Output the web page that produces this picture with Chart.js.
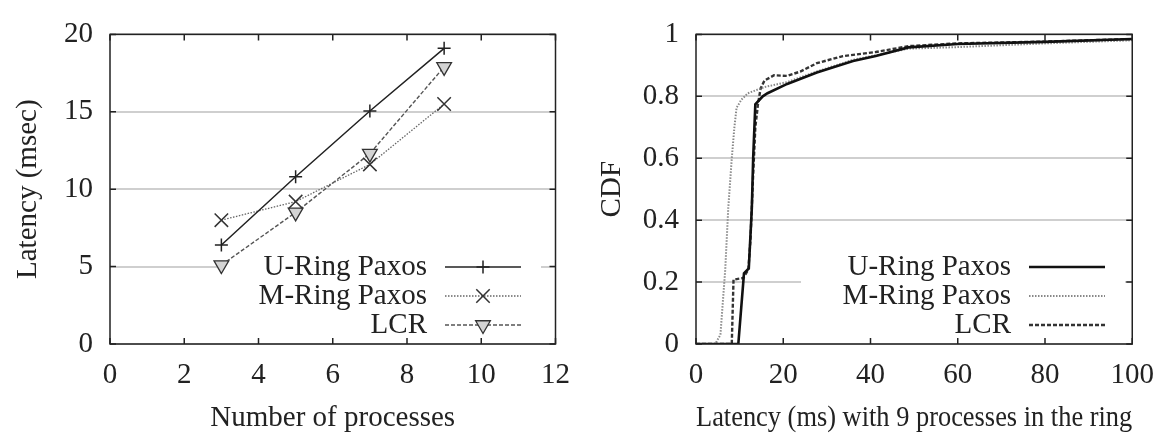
<!DOCTYPE html>
<html>
<head>
<meta charset="utf-8">
<script src="https://cdn.jsdelivr.net/npm/chart.js@4"></script>
<style>
  body { margin: 0; background: #fff; }
  .box { position: absolute; top: 0; width: 584px; height: 436px; }
</style>
</head>
<body>
<div class="box" style="left:0"><canvas id="procChart" width="584" height="436"></canvas></div>
<div class="box" style="left:584px"><canvas id="cdfChart" width="584" height="436"></canvas></div>
<script>
// Left panel: latency vs number of processes
const processes = [3, 5, 7, 9];
const uringLatency = [6.4, 10.8, 15.05, 19.1];
const mringLatency = [8.0, 9.2, 11.6, 15.5];
const lcrLatency = [5.1, 8.5, 12.3, 17.9];
const procTicks = [0, 2, 4, 6, 8, 10, 12];
const latencyTicks = [0, 5, 10, 15, 20];

// Right panel: CDF with 9 processes
const uringCdfX = [0, 9.7, 11.0, 12.1, 12.8, 13.1, 13.6, 15.3, 16.4, 20.9, 27.7, 36, 41.2, 48.7, 60, 80, 100];
const uringCdfY = [0, 0, 0.228, 0.244, 0.44, 0.6, 0.774, 0.80, 0.81, 0.84, 0.877, 0.914, 0.93, 0.958, 0.969, 0.976, 0.985];
const mringCdfX = [0, 4.4, 5.6, 6.7, 7.4, 8.2, 8.8, 9.3, 10.4, 11.9, 15.7, 20.9, 27.7, 36, 48.7, 60, 80, 100];
const mringCdfY = [0, 0, 0.03, 0.24, 0.44, 0.6, 0.70, 0.763, 0.789, 0.81, 0.83, 0.846, 0.88, 0.918, 0.954, 0.959, 0.971, 0.981];
const lcrCdfX = [0, 8.2, 8.6, 10.8, 12, 12.5, 13.1, 13.6, 14.2, 14.8, 15.7, 17.9, 20.9, 23.9, 27.7, 33.7, 41.2, 48.7, 60, 80, 100];
const lcrCdfY = [0, 0, 0.208, 0.213, 0.24, 0.34, 0.547, 0.70, 0.774, 0.825, 0.851, 0.868, 0.866, 0.88, 0.907, 0.93, 0.943, 0.962, 0.971, 0.977, 0.985];
const cdfXTicks = [0, 20, 40, 60, 80, 100];
const cdfYTicks = [0, 0.2, 0.4, 0.6, 0.8, 1];

const seriesNames = ["U-Ring Paxos", "M-Ring Paxos", "LCR"];
const FONT = "'Liberation Serif', 'Times New Roman', serif";

const pairs = (xs, ys) => xs.map((x, i) => ({ x: x, y: ys[i] }));

// gnuplot-like frame, inward ticks and opaque key
const gnuplotLook = {
  id: "gnuplotLook",
  beforeDatasetsDraw(chart) {
    const ctx = chart.ctx;
    ctx.save();
    ctx.fillStyle = "#fff";
    ctx.fillRect(217, 250, 324, 92);
    ctx.restore();
  },
  afterDatasetsDraw(chart) {
    const { ctx, chartArea: a, scales } = chart;
    ctx.save();
    ctx.strokeStyle = "#222";
    ctx.lineWidth = 1.5;
    ctx.strokeRect(a.left, a.top, a.width, a.height);
    ctx.beginPath();
    scales.x.ticks.forEach((t) => {
      const px = scales.x.getPixelForValue(t.value);
      ctx.moveTo(px, a.bottom); ctx.lineTo(px, a.bottom - 6);
      ctx.moveTo(px, a.top); ctx.lineTo(px, a.top + 6);
    });
    scales.y.ticks.forEach((t) => {
      const py = scales.y.getPixelForValue(t.value);
      ctx.moveTo(a.left, py); ctx.lineTo(a.left + 6, py);
      ctx.moveTo(a.right, py); ctx.lineTo(a.right - 6, py);
    });
    ctx.stroke();
    ctx.restore();
  },
  afterDraw(chart) {
    const ctx = chart.ctx;
    ctx.save();
    chart.data.datasets.forEach((ds, i) => {
      const y = 267 + 29 * i;
      ctx.fillStyle = "#222";
      ctx.font = "29px " + FONT;
      ctx.textAlign = "right";
      ctx.textBaseline = "middle";
      ctx.fillText(ds.label, 427, y);
      ctx.strokeStyle = ds.borderColor;
      ctx.lineWidth = ds.borderWidth;
      ctx.setLineDash(ds.borderDash || []);
      ctx.beginPath();
      ctx.moveTo(445, y); ctx.lineTo(521, y);
      ctx.stroke();
      ctx.setLineDash([]);
      if (ds.pointRadius > 0) {
        ctx.fillStyle = ds.pointBackgroundColor || "#fff";
        ctx.strokeStyle = ds.pointBorderColor || ds.borderColor;
        ctx.lineWidth = ds.pointBorderWidth || 1;
        Chart.helpers.drawPoint(ctx, {
          pointStyle: ds.pointStyle,
          rotation: ds.pointRotation || 0,
          radius: ds.pointRadius,
          borderWidth: ds.pointBorderWidth || 1
        }, 483, y);
      }
    });
    ctx.restore();
  }
};

function scaleOpts(min, max, tickList, title, isY, boxSize, fmt) {
  return {
    type: "linear",
    min: min,
    max: max,
    afterBuildTicks: (s) => { s.ticks = tickList.map((v) => ({ value: v })); },
    afterFit: (s) => { if (isY) s.width = boxSize; else s.height = boxSize; },
    grid: {
      display: isY,
      color: "#cfcfcf",
      lineWidth: 2,
      drawTicks: false
    },
    border: { display: false },
    ticks: {
      color: "#222",
      padding: isY ? 17 : 14,
      font: { family: FONT, size: 29 },
      callback: fmt || ((v) => v)
    },
    title: {
      display: true,
      text: title,
      color: "#222",
      font: { family: FONT, size: 29 },
      padding: isY ? { top: 11, bottom: 0 } : { top: 0, bottom: 0 }
    }
  };
}

function baseOptions(rightPad, xScale, yScale) {
  return {
    responsive: false,
    animation: false,
    layout: { padding: { top: 21, right: rightPad, left: 0, bottom: 0 } },
    plugins: { legend: { display: false }, tooltip: { enabled: false } },
    scales: { x: xScale, y: yScale }
  };
}

new Chart(document.getElementById("procChart"), {
  type: "line",
  data: {
    datasets: [
      {
        label: seriesNames[0],
        data: pairs(processes, uringLatency),
        borderColor: "#222",
        borderWidth: 1.5,
        pointStyle: "cross",
        pointRadius: 6.5,
        pointBorderColor: "#222",
        pointBorderWidth: 1.5
      },
      {
        label: seriesNames[1],
        data: pairs(processes, mringLatency),
        borderColor: "#666",
        borderWidth: 1.3,
        borderDash: [1.5, 1.5],
        pointStyle: "crossRot",
        pointRadius: 9.5,
        pointBorderColor: "#333",
        pointBorderWidth: 1.5
      },
      {
        label: seriesNames[2],
        data: pairs(processes, lcrLatency),
        borderColor: "#555",
        borderWidth: 1.4,
        borderDash: [4, 2],
        pointStyle: "triangle",
        pointRotation: 180,
        pointRadius: 8.5,
        pointBackgroundColor: "#d4d4d4",
        pointBorderColor: "#333",
        pointBorderWidth: 1.3
      }
    ]
  },
  options: baseOptions(27,
    scaleOpts(0, 12, procTicks, "Number of processes", false, 92),
    scaleOpts(0, 20, latencyTicks, "Latency (msec)", true, 110)),
  plugins: [gnuplotLook]
});

new Chart(document.getElementById("cdfChart"), {
  type: "line",
  data: {
    datasets: [
      {
        label: seriesNames[0],
        data: pairs(uringCdfX, uringCdfY),
        borderColor: "#111",
        borderWidth: 2.6,
        pointRadius: 0
      },
      {
        label: seriesNames[1],
        data: pairs(mringCdfX, mringCdfY),
        borderColor: "#888",
        borderWidth: 2,
        borderDash: [1.5, 1.5],
        pointRadius: 0
      },
      {
        label: seriesNames[2],
        data: pairs(lcrCdfX, lcrCdfY),
        borderColor: "#333",
        borderWidth: 2.4,
        borderDash: [4, 2],
        pointRadius: 0
      }
    ]
  },
  options: baseOptions(26,
    scaleOpts(0, 100, cdfXTicks, "Latency (ms) with 9 processes in the ring", false, 92),
    scaleOpts(0, 1, cdfYTicks, "CDF", true, 112, (v) => String(+v.toFixed(1)))),
  plugins: [gnuplotLook]
});
</script>
</body>
</html>
